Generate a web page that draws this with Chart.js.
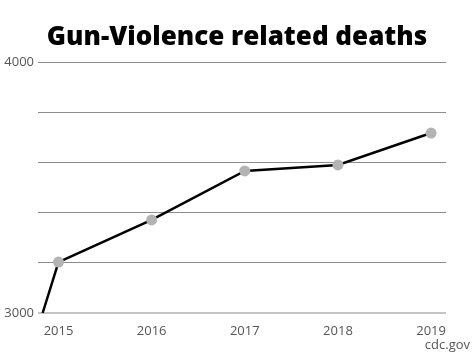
<!DOCTYPE html>
<html>
<head>
<meta charset="utf-8">
<script src="https://cdn.jsdelivr.net/npm/chart.js@4"></script>
<style>
  html, body { margin: 0; padding: 0; background: #fff; }
  #wrap { width: 475px; height: 356px; position: relative; }
</style>
</head>
<body>
<div id="wrap"><canvas id="c" width="475" height="356"></canvas></div>
<script>
const titleText = "Gun-Violence related deaths";
const sourceText = "cdc.gov";
const years = [2015, 2016, 2017, 2018, 2019];
const deaths = [3203, 3371, 3566, 3590, 3717];
const lineStartYear = 2014.83;
const lineStartValue = 3000;
const yTickLabels = [3000, 4000];

const points = [{x: lineStartYear, y: lineStartValue}].concat(
  years.map((yr, i) => ({x: yr, y: deaths[i]}))
);

const textPlugin = {
  id: 'texts',
  afterDraw(chart) {
    const ctx = chart.ctx;
    ctx.save();
    ctx.fillStyle = '#000';
    ctx.font = '800 26px "Open Sans"';
    ctx.textAlign = 'center';
    ctx.textBaseline = 'middle';
    ctx.fillText(titleText, 237, 38);
    ctx.fillStyle = '#555';
    ctx.font = '13px "Open Sans"';
    ctx.textAlign = 'right';
    ctx.fillText(sourceText, 470, 345);
    ctx.restore();
  }
};

new Chart(document.getElementById('c'), {
  type: 'line',
  data: {
    datasets: [{
      data: points,
      borderColor: '#000',
      borderWidth: 2.5,
      pointRadius: (ctx) => ctx.dataIndex === 0 ? 0 : 5.5,
      pointHoverRadius: (ctx) => ctx.dataIndex === 0 ? 0 : 5.5,
      pointBackgroundColor: '#b3b3b3',
      pointBorderWidth: 0,
      tension: 0,
      clip: false
    }]
  },
  options: {
    responsive: false,
    animation: false,
    layout: { padding: { top: 62, left: 0, right: 29, bottom: 0 } },
    plugins: { legend: { display: false }, title: { display: false }, tooltip: { enabled: false } },
    scales: {
      x: {
        type: 'linear',
        min: 2014.78,
        max: 2019.16,
        grid: { display: false },
        border: { display: false },
        afterBuildTicks(scale) { scale.ticks = years.map(v => ({value: v})); },
        afterFit(scale) { scale.height = 43; },
        ticks: {
          includeBounds: false,
          stepSize: 1,
          padding: 2,
          color: '#555',
          font: { family: 'Open Sans', size: 13 },
          callback: (v) => String(v)
        }
      },
      y: {
        min: 3000,
        max: 4000,
        border: { display: false },
        afterBuildTicks(scale) {
          const t = [];
          for (let v = 3000; v <= 4000; v += 200) t.push({value: v});
          scale.ticks = t;
        },
        afterFit(scale) { scale.width = 38; },
        grid: {
          color: (ctx) => ctx.tick && ctx.tick.value === 3000 ? '#c4c4c4' : '#8c8c8c',
          lineWidth: (ctx) => ctx.tick && ctx.tick.value === 3000 ? 2 : 1,
          tickLength: 0
        },
        ticks: {
          padding: 4,
          color: '#555',
          font: { family: 'Open Sans', size: 13 },
          callback: (v) => yTickLabels.includes(v) ? String(v) : ''
        }
      }
    }
  },
  plugins: [textPlugin]
});
</script>
</body>
</html>
